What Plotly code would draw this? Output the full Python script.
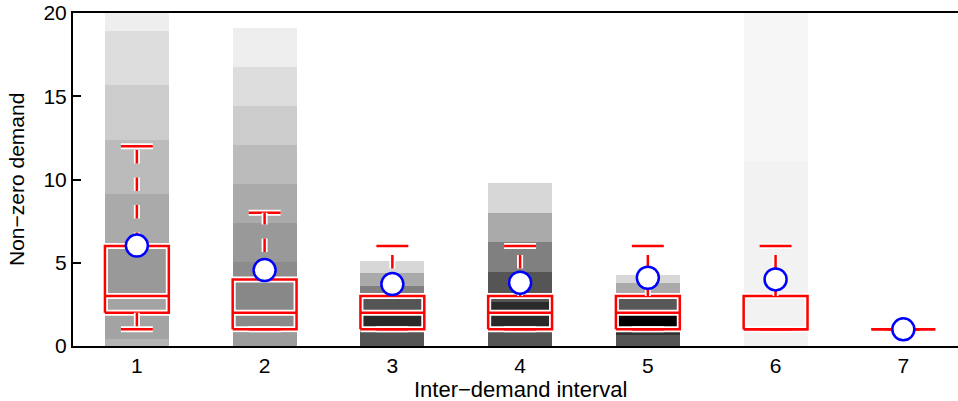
import plotly.graph_objects as go

# ---------------- data ----------------
categories = [1, 2, 3, 4, 5, 6, 7]
tick_labels = ["1", "2", "3", "4", "5", "6", "7"]

mean_vals = [6.03, 4.56, 3.72, 3.80, 4.10, 4.00, 1.00]
q1_vals = [2, 1, 1, 1, 1, 1, 1]
median_vals = [3, 2, 2, 2, 2, 1, 1]
q3_vals = [6, 4, 3, 3, 3, 3, 1]
whisker_low = [1, 1, 1, 1, 1, 1, 1]
whisker_high = [12, 8, 6, 6, 6, 6, 1]

# density stripes: band edges (values) and grey level of each band
stripe_edges_1 = [0, 0.45, 3.0, 6.0, 9.1, 12.4, 15.7, 18.9, 20]
stripe_gray_1 = [180, 163, 153, 170, 187, 204, 221, 238]
stripe_edges_2 = [0, 0.8, 1.0, 2.0, 4.0, 5.05, 7.39, 9.73, 12.07, 14.4, 16.75, 19.1]
stripe_gray_2 = [156, 140, 138, 136, 140, 153, 170, 187, 204, 221, 238]
stripe_edges_3 = [0, 1.0, 2.0, 3.0, 3.6, 4.37, 5.1]
stripe_gray_3 = [85, 42, 85, 128, 170, 215]
stripe_edges_4 = [0, 1.0, 2.66, 4.46, 6.26, 8.0, 9.8]
stripe_gray_4 = [85, 42, 85, 128, 170, 215]
stripe_edges_5 = [0, 0.66, 1.0, 1.85, 3.0, 3.76, 4.26]
stripe_gray_5 = [85, 51, 0, 88, 170, 215]
stripe_edges_6 = [0, 11.1, 20]
stripe_gray_6 = [242, 246]
stripe_edges_7 = []
stripe_gray_7 = []

stripe_edges = [stripe_edges_1, stripe_edges_2, stripe_edges_3, stripe_edges_4,
                stripe_edges_5, stripe_edges_6, stripe_edges_7]
stripe_grays = [stripe_gray_1, stripe_gray_2, stripe_gray_3, stripe_gray_4,
                stripe_gray_5, stripe_gray_6, stripe_gray_7]

BOX_W = 0.5
CAP_W = 0.25
RED = "#ff0000"
BLUE = "#0000ff"
FONT = "Liberation Sans, Arial, sans-serif"
FS = 21
DASH = "13.5px,14px"

fig = go.Figure()

# stripes
for cat, edges, grays in zip(categories, stripe_edges, stripe_grays):
    if not grays:
        continue
    lo = edges[:-1]
    hi = edges[1:]
    fig.add_trace(go.Bar(
        x=[cat] * len(lo), base=lo, y=[h - l for l, h in zip(lo, hi)],
        width=BOX_W,
        marker=dict(color=[f"rgb({g},{g},{g})" for g in grays], line=dict(width=0)),
        hoverinfo="skip", showlegend=False,
    ))

# boxes, medians, caps
bx, by = [], []
for c, a, m, b, wl, wh in zip(categories, q1_vals, median_vals, q3_vals,
                              whisker_low, whisker_high):
    x0, x1 = c - BOX_W / 2, c + BOX_W / 2
    bx += [x0, x1, x1, x0, x0, None, x0, x1, None]
    by += [a, a, b, b, a, None, m, m, None]
    bx += [c - CAP_W / 2, c + CAP_W / 2, None, c - CAP_W / 2, c + CAP_W / 2, None]
    by += [wh, wh, None, wl, wl, None]

fig.add_trace(go.Scatter(x=bx, y=by, mode="lines", line=dict(color="white", width=6),
                         hoverinfo="skip", showlegend=False))
fig.add_trace(go.Scatter(x=bx, y=by, mode="lines", line=dict(color=RED, width=2.5),
                         hoverinfo="skip", showlegend=False))

# dashed whiskers
for c, a, b, wl, wh in zip(categories, q1_vals, q3_vals, whisker_low, whisker_high):
    segs = []
    if wh > b:
        segs.append((b, wh))
    if wl < a:
        segs.append((a, wl))
    for y0, y1 in segs:
        for col, w in (("white", 6), (RED, 2.5)):
            fig.add_trace(go.Scatter(x=[c, c], y=[y0, y1], mode="lines",
                                     line=dict(color=col, width=w, dash=DASH),
                                     hoverinfo="skip", showlegend=False))

# means
fig.add_trace(go.Scatter(x=categories, y=mean_vals, mode="markers",
                         marker=dict(size=22, color="white",
                                     line=dict(color=BLUE, width=2.5)),
                         hoverinfo="skip", showlegend=False))

fig.update_layout(
    width=958, height=401,
    margin=dict(l=73, r=0, t=13, b=55, autoexpand=False),
    plot_bgcolor="white", paper_bgcolor="white",
    barmode="overlay", bargap=0,
    font=dict(family=FONT, size=FS, color="black"),
    showlegend=False,
)
fig.update_xaxes(
    range=[0.5, 7.428], tickvals=categories, ticktext=tick_labels,
    showline=True, linecolor="black", linewidth=2, mirror=True,
    ticks="", showgrid=False, zeroline=False, ticklabeloverflow="allow",
    tickfont=dict(family=FONT, size=FS, color="black"),
)
fig.update_yaxes(
    range=[0, 20], tickvals=[0, 5, 10, 15, 20],
    showline=True, linecolor="black", linewidth=2, mirror=False,
    ticks="inside", ticklen=8, tickwidth=1.5, tickcolor="black",
    showgrid=False, zeroline=False, ticklabeloverflow="allow",
    tickfont=dict(family=FONT, size=FS, color="black"),
)
fig.add_annotation(text="Inter\u2212demand interval", xref="x", x=4.0, yref="paper", y=0,
                   yanchor="top", yshift=-29, showarrow=False,
                   font=dict(family=FONT, size=22, color="black"))
fig.add_annotation(text="Non\u2212zero demand", xref="paper", x=0, xshift=-70, yref="paper",
                   y=0.5, textangle=-90, showarrow=False,
                   font=dict(family=FONT, size=FS, color="black"))

fig.write_html("out.html", config={"displayModeBar": False},
               post_script="document.body.style.margin='0';")
